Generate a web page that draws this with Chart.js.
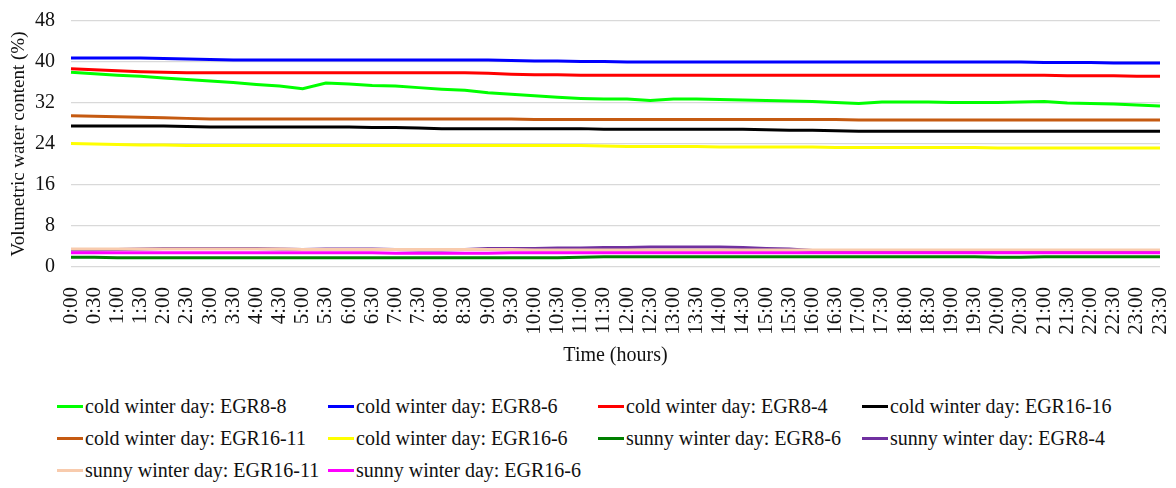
<!DOCTYPE html>
<html>
<head>
<meta charset="utf-8">
<script src="https://cdn.jsdelivr.net/npm/chart.js@4"></script>
<style>
  body{margin:0;background:#fff;font-family:"Liberation Serif","Times New Roman",serif}
  #wrap{position:relative;width:1176px;height:488px;overflow:hidden}
  #chart{position:absolute;left:0;top:0}
  #legend{position:absolute;left:57px;top:395px;display:grid;grid-template-columns:271px 270px 264px 300px;row-gap:10px;font-size:20px;color:#111}
  .item{display:flex;align-items:center;height:22px;white-space:nowrap}
  .sw{display:inline-block;width:26px;height:3px;margin-right:2px}
</style>
</head>
<body>
<div id="wrap">
  <canvas id="chart" width="1176" height="372"></canvas>
  <div id="legend"></div>
</div>
<script>
const times = ["0:00","0:30","1:00","1:30","2:00","2:30","3:00","3:30","4:00","4:30","5:00","5:30",
  "6:00","6:30","7:00","7:30","8:00","8:30","9:00","9:30","10:00","10:30","11:00","11:30",
  "12:00","12:30","13:00","13:30","14:00","14:30","15:00","15:30","16:00","16:30","17:00","17:30",
  "18:00","18:30","19:00","19:30","20:00","20:30","21:00","21:30","22:00","22:30","23:00","23:30"]
const yTicks = [0,8,16,24,32,40,48]

const seriesNames = ["cold winter day: EGR8-8","cold winter day: EGR8-6","cold winter day: EGR8-4","cold winter day: EGR16-16",
  "cold winter day: EGR16-11","cold winter day: EGR16-6","sunny winter day: EGR8-6","sunny winter day: EGR8-4",
  "sunny winter day: EGR16-11","sunny winter day: EGR16-6"]
const colors = ["#00ff00","#0000ff","#ff0000","#000000","#c55a11","#ffff00","#008000","#7030a0","#f8cbad","#ff00ff"]

const coldEGR8_8 = [38.0,37.7,37.4,37.2,36.9,36.6,36.3,36.0,35.6,35.3,34.8,35.9,
  35.7,35.4,35.3,35.0,34.7,34.5,34.0,33.7,33.4,33.1,32.9,32.8,
  32.8,32.5,32.8,32.8,32.7,32.6,32.5,32.4,32.3,32.1,31.9,32.2,
  32.2,32.2,32.1,32.1,32.1,32.2,32.3,32.0,31.9,31.8,31.6,31.4]
const coldEGR8_6 = [40.8,40.8,40.8,40.8,40.7,40.6,40.5,40.4,40.4,40.4,40.4,40.4,
  40.4,40.4,40.4,40.4,40.4,40.4,40.4,40.3,40.2,40.2,40.1,40.1,
  40.0,40.0,40.0,40.0,40.0,40.0,40.0,40.0,40.0,40.0,40.0,40.0,
  40.0,40.0,40.0,40.0,40.0,40.0,39.9,39.9,39.9,39.8,39.8,39.8]
const coldEGR8_4 = [38.7,38.5,38.3,38.1,38.0,37.9,37.9,37.9,37.9,37.9,37.9,37.9,
  37.9,37.9,37.9,37.9,37.9,37.9,37.8,37.6,37.5,37.5,37.4,37.4,
  37.4,37.4,37.4,37.4,37.4,37.4,37.4,37.4,37.4,37.4,37.4,37.4,
  37.4,37.4,37.4,37.4,37.4,37.4,37.4,37.3,37.3,37.3,37.2,37.2]
const coldEGR16_16 = [27.5,27.5,27.5,27.5,27.5,27.4,27.3,27.3,27.3,27.3,27.3,27.3,
  27.3,27.2,27.2,27.1,27.0,27.0,27.0,27.0,27.0,27.0,27.0,26.9,
  26.9,26.9,26.9,26.9,26.9,26.9,26.8,26.7,26.7,26.6,26.5,26.5,
  26.5,26.5,26.5,26.5,26.5,26.5,26.5,26.5,26.5,26.5,26.5,26.5]
const coldEGR16_11 = [29.5,29.4,29.3,29.2,29.1,29.0,28.9,28.9,28.9,28.9,28.9,28.9,
  28.9,28.9,28.9,28.9,28.9,28.9,28.9,28.9,28.8,28.8,28.8,28.8,
  28.8,28.8,28.8,28.8,28.8,28.8,28.8,28.8,28.8,28.8,28.7,28.7,
  28.7,28.7,28.7,28.7,28.7,28.7,28.7,28.7,28.7,28.7,28.7,28.7]
const coldEGR16_6 = [24.1,24.0,23.9,23.8,23.8,23.7,23.7,23.7,23.7,23.7,23.7,23.7,
  23.7,23.7,23.7,23.7,23.7,23.7,23.7,23.7,23.7,23.7,23.7,23.6,
  23.5,23.5,23.5,23.5,23.4,23.4,23.4,23.4,23.4,23.3,23.3,23.3,
  23.3,23.3,23.3,23.3,23.2,23.2,23.2,23.2,23.2,23.2,23.2,23.2]
const sunnyEGR8_6 = [1.9,1.9,1.8,1.8,1.8,1.8,1.8,1.8,1.8,1.8,1.8,1.8,
  1.8,1.8,1.8,1.8,1.8,1.8,1.8,1.8,1.8,1.8,1.9,2.0,
  2.0,2.0,2.0,2.0,2.0,2.0,2.0,2.0,2.0,2.0,2.0,2.0,
  2.0,2.0,2.0,2.0,1.9,1.9,2.0,2.0,2.0,2.0,2.0,2.0]
const sunnyEGR8_4 = [3.3,3.3,3.4,3.5,3.6,3.6,3.6,3.6,3.6,3.5,3.4,3.5,
  3.5,3.5,3.4,3.3,3.3,3.4,3.6,3.6,3.6,3.7,3.7,3.8,
  3.8,3.9,3.9,3.9,3.9,3.8,3.6,3.5,3.2,3.1,3.1,3.1,
  3.1,3.0,3.0,3.0,3.0,3.0,3.0,3.0,3.0,3.0,3.0,3.0]
const sunnyEGR16_11 = [3.5,3.5,3.5,3.5,3.5,3.5,3.5,3.5,3.5,3.5,3.4,3.4,
  3.4,3.4,3.4,3.4,3.4,3.4,3.4,3.4,3.3,3.3,3.3,3.3,
  3.3,3.3,3.3,3.3,3.3,3.3,3.3,3.3,3.3,3.3,3.3,3.3,
  3.3,3.3,3.3,3.3,3.3,3.3,3.3,3.3,3.3,3.3,3.3,3.3]
const sunnyEGR16_6 = [2.8,2.8,2.8,2.8,2.8,2.8,2.8,2.8,2.8,2.8,2.8,2.8,
  2.8,2.8,2.7,2.7,2.7,2.7,2.7,2.8,2.8,2.8,2.8,2.8,
  2.8,2.8,2.8,2.8,2.8,2.8,2.8,2.8,2.8,2.8,2.8,2.8,
  2.8,2.8,2.8,2.8,2.8,2.8,2.8,2.8,2.8,2.8,2.8,2.8]

const seriesValues = [coldEGR8_8,coldEGR8_6,coldEGR8_4,coldEGR16_16,coldEGR16_11,coldEGR16_6,
  sunnyEGR8_6,sunnyEGR8_4,sunnyEGR16_11,sunnyEGR16_6]

const serif = "'Liberation Serif','Times New Roman',serif"

// later series drawn on top, like the original
const datasets = seriesNames.map((name,i)=>({
  label:name,
  data:seriesValues[i],
  borderColor:colors[i],
  backgroundColor:colors[i],
  borderWidth:3,
  pointRadius:0,
  tension:0,
  order:seriesNames.length-i
}))

const chart = new Chart(document.getElementById("chart").getContext("2d"),{
  type:"line",
  data:{labels:times,datasets:datasets},
  options:{
    responsive:false,
    animation:false,
    layout:{padding:{top:21,right:16,left:0,bottom:0}},
    plugins:{legend:{display:false},tooltip:{enabled:false}},
    scales:{
      x:{
        offset:false,
        grid:{display:false},
        border:{display:false},
        ticks:{autoSkip:false,maxRotation:90,minRotation:90,color:"#111",padding:12,font:{family:serif,size:21}},
        title:{display:true,text:"Time (hours)",color:"#111",font:{family:serif,size:20},padding:{top:0,bottom:4}},
        afterFit:s=>{s.height = 105; s.paddingLeft = 0; s.paddingRight = 0}
      },
      y:{
        min:0,max:48,
        afterBuildTicks:axis=>{axis.ticks = yTicks.map(v=>({value:v}))},
        grid:{color:"#d9d9d9",drawTicks:false,lineWidth:1.3},
        border:{display:false},
        ticks:{color:"#111",padding:16,font:{family:serif,size:20}},
        title:{display:true,text:"Volumetric water content (%)",color:"#111",font:{family:serif,size:19},padding:{top:8,bottom:0}},
        afterFit:s=>{s.width = 71; s.paddingTop = 0; s.paddingBottom = 0}
      }
    }
  }
})

// legend laid out in columns like the original
const legendEl = document.getElementById("legend")
chart.data.datasets.forEach(ds=>{
  const item = document.createElement("div")
  item.className = "item"
  const sw = document.createElement("span")
  sw.className = "sw"
  sw.style.background = ds.borderColor
  item.appendChild(sw)
  item.appendChild(document.createTextNode(ds.label))
  legendEl.appendChild(item)
})
</script>
</body>
</html>
